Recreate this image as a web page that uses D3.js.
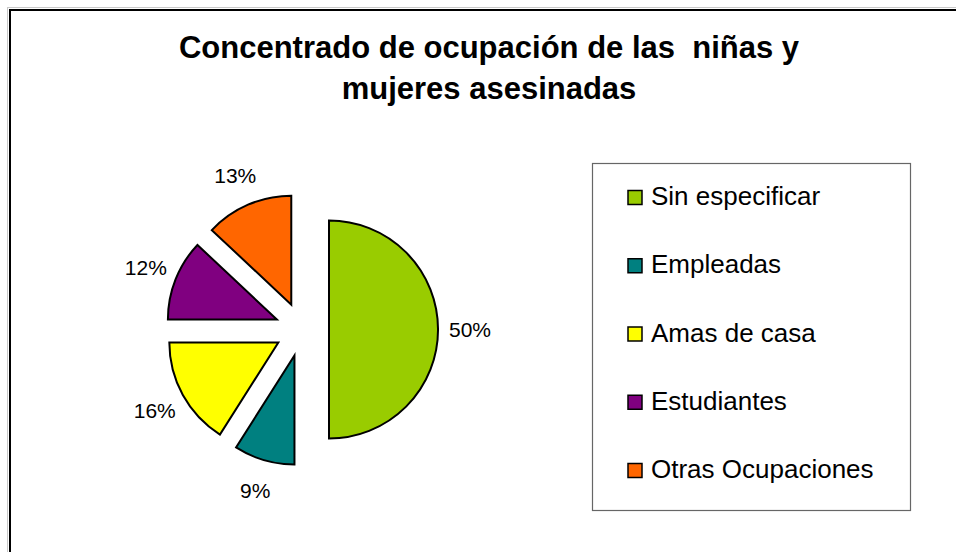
<!DOCTYPE html>
<html>
<head>
<meta charset="utf-8">
<script src="https://cdn.jsdelivr.net/npm/d3@7"></script>
<style>
  body { margin: 0; background: #fff; }
  svg { display: block; font-family: Arial, "Liberation Sans", sans-serif; }
</style>
</head>
<body>
<svg id="chart" width="956" height="552"></svg>
<script>
// data (percent of total)
const categories = ["Sin especificar", "Empleadas", "Amas de casa", "Estudiantes", "Otras Ocupaciones"]
const values = [50, 9, 16, 12, 13]
const colors = ["#99CC00", "#008080", "#FFFF00", "#800080", "#FF6600"]
const titleLines = ["Concentrado de ocupación de las  niñas y", "mujeres asesinadas"]

const svg = d3.select("#chart")

// chart frame (runs off the right and bottom of the picture)
svg.append("rect")
    .attr("x", 7.5).attr("y", 7.5)
    .attr("width", 1100).attr("height", 700)
    .attr("fill", "none").attr("stroke", "#c8c8c8").attr("stroke-width", 1)
svg.append("rect")
    .attr("x", 10).attr("y", 10)
    .attr("width", 1100).attr("height", 700)
    .attr("fill", "none").attr("stroke", "#000").attr("stroke-width", 2)

// title (keeps the double space of the original)
svg.append("text")
    .attr("x", 489)
    .attr("text-anchor", "middle")
    .attr("font-size", "31px")
    .attr("font-weight", "bold")
    .attr("fill", "#000")
    .style("white-space", "pre")
    .selectAll("tspan")
    .data(titleLines)
    .enter()
    .append("tspan")
        .attr("x", 489)
        .attr("y", (d, i) => 57.5 + i * 41)
        .text(d => d)

// pie
const cx = 302, cy = 329.5
const radius = 109
const explode = 27
const labelRadius = 168

const pie = d3.pie().sort(null).value(d => d.value)
const arc = d3.arc().innerRadius(0).outerRadius(radius)

const rows = categories.map((c, i) => ({ name: c, value: values[i], color: colors[i] }))
const arcs = pie(rows)
const mid = d => (d.startAngle + d.endAngle) / 2

const pieG = svg.append("g").attr("transform", `translate(${cx},${cy})`)

pieG.selectAll("path")
    .data(arcs)
    .enter()
    .append("path")
        .attr("d", arc)
        .attr("transform", d => `translate(${explode * Math.sin(mid(d))},${-explode * Math.cos(mid(d))})`)
        .attr("fill", d => d.data.color)
        .attr("stroke", "#000")
        .attr("stroke-width", 2)
        .attr("stroke-linejoin", "miter")

pieG.selectAll("text")
    .data(arcs)
    .enter()
    .append("text")
        .attr("x", d => labelRadius * Math.sin(mid(d)))
        .attr("y", d => -labelRadius * Math.cos(mid(d)))
        .attr("dy", "0.36em")
        .attr("text-anchor", "middle")
        .attr("font-size", "21px")
        .attr("fill", "#000")
        .text(d => d3.format(".0f")(d.data.value) + "%")

// legend
const legend = svg.append("g")
legend.append("rect")
    .attr("x", 592.5).attr("y", 163.5)
    .attr("width", 318).attr("height", 347)
    .attr("fill", "#fff").attr("stroke", "#666").attr("stroke-width", 1.2)

const legendY = d3.scalePoint()
    .domain(categories)
    .range([197.5, 470.5])

const items = legend.selectAll("g.item")
    .data(rows)
    .enter()
    .append("g")
        .classed("item", true)
        .attr("transform", d => `translate(0,${legendY(d.name)})`)

items.append("rect")
    .attr("x", 628).attr("y", -7)
    .attr("width", 14).attr("height", 14)
    .attr("fill", d => d.color)
    .attr("stroke", "#000").attr("stroke-width", 1.5)

items.append("text")
    .attr("x", 651)
    .attr("y", 7.5)
    .attr("font-size", "26px")
    .attr("fill", "#000")
    .text(d => d.name)
</script>
</body>
</html>
